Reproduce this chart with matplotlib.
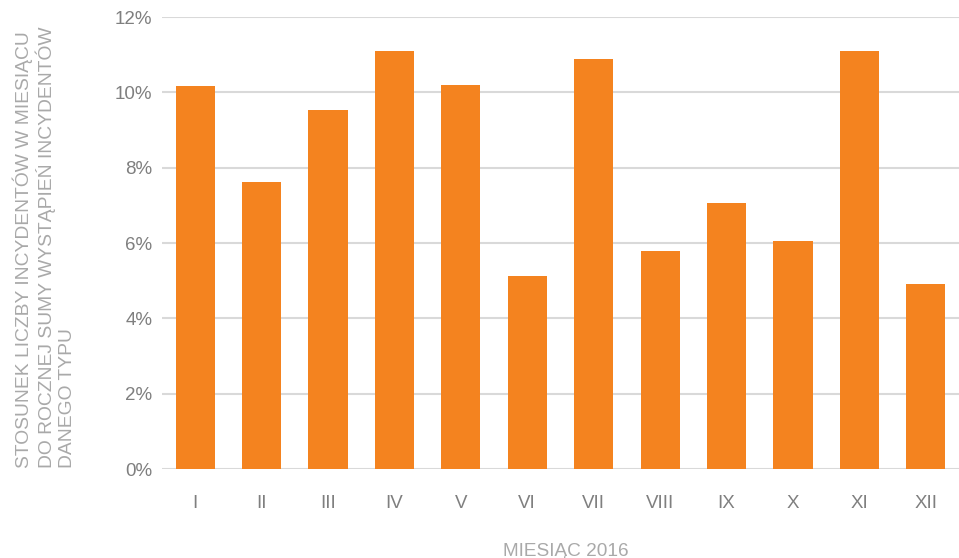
import matplotlib
matplotlib.use("Agg")
import matplotlib.pyplot as plt
import numpy as np

months = ["I", "II", "III", "IV", "V", "VI", "VII", "VIII", "IX", "X", "XI", "XII"]
share_pct = [10.17, 7.62, 9.53, 11.10, 10.19, 5.12, 10.88, 5.78, 7.07, 6.05, 11.10, 4.91]
y_ticks = [0, 2, 4, 6, 8, 10, 12]

BAR = "#F4831F"
TICK = "#7f7f7f"
TITLE = "#a9a9a9"
GRID = "#d9d9d9"

plt.rcParams["font.family"] = ["Liberation Sans", "DejaVu Sans"]

fig = plt.figure(figsize=(9.59, 5.58), dpi=100)
ax = fig.add_axes([162 / 959, 89 / 558, 797 / 959, 452 / 558])

x = np.arange(len(months))
ax.bar(x, share_pct, width=0.59, color=BAR, zorder=3)

ax.set_xlim(-0.5, len(months) - 0.5)
ax.set_ylim(0, 12)
ax.set_yticks(y_ticks)
ax.set_yticklabels([f"{t}%" for t in y_ticks])
ax.set_xticks(x)
ax.set_xticklabels(months)

ax.grid(axis="y", color=GRID, linewidth=1.5, zorder=0)
for side in ("top", "right", "left", "bottom"):
    ax.spines[side].set_visible(False)
ax.tick_params(axis="both", length=0, labelsize=13.5, labelcolor=TICK)
ax.tick_params(axis="x", pad=19)
ax.tick_params(axis="y", pad=7)

ax.set_xlabel("MIESIĄC 2016", fontsize=13.7, color=TITLE, labelpad=22)
ax.xaxis.label.set_x(0.507)

fig.text(44 / 959, 90 / 558,
         "STOSUNEK LICZBY INCYDENTÓW W MIESIĄCU\n"
         "DO ROCZNEJ SUMY WYSTĄPIEŃ INCYDENTÓW\n"
         "DANEGO TYPU",
         rotation=90, ha="center", va="bottom", multialignment="left",
         fontsize=13.9, color=TITLE, linespacing=1.2)

fig.savefig("out.png", dpi=100)
